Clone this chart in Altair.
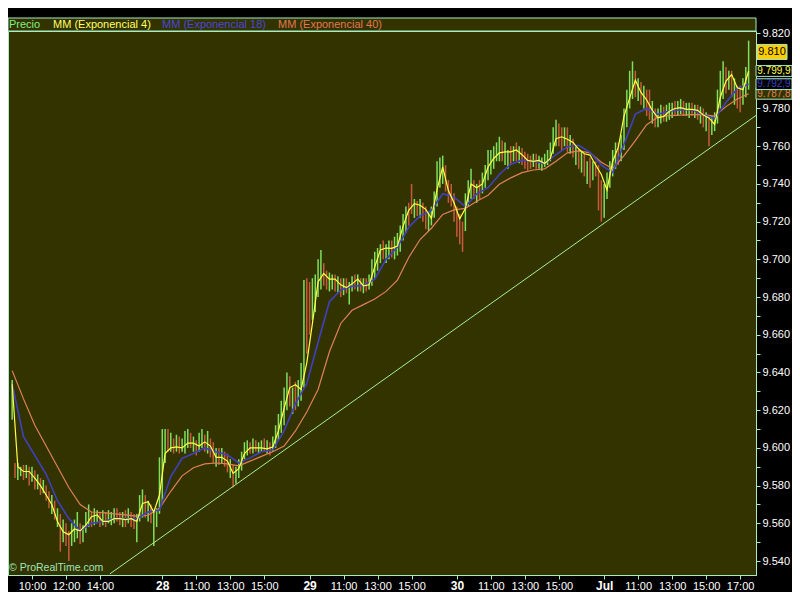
import altair as alt
import pandas as pd

# ---------------- data ----------------
# x = index of 10-minute bar; 0 = 09:00 of the first day, 52 bars per day
BAR_START = -1
bar_low = [
    9.615,
    9.584, 9.583, 9.585, 9.583, 9.584, 9.580, 9.582, 9.578, 9.578, 9.575, 9.576,
    9.572, 9.568, 9.565, 9.562, 9.558, 9.545, 9.550, 9.548, 9.540, 9.548,
    9.550, 9.552, 9.549, 9.550, 9.555, 9.558, 9.558, 9.559, 9.560, 9.558,
    9.559, 9.558, 9.560, 9.559, 9.560, 9.561, 9.559, 9.558, 9.558, 9.560,
    9.558, 9.557, 9.550, 9.561, 9.563, 9.563, 9.561, 9.560, 9.548, 9.558,
    9.565, 9.570, 9.592, 9.598, 9.598, 9.597, 9.598, 9.597, 9.598, 9.597,
    9.600, 9.600, 9.598, 9.596, 9.598, 9.600, 9.598, 9.597, 9.595, 9.592,
    9.590, 9.591, 9.592, 9.590, 9.587, 9.584, 9.579, 9.581, 9.584, 9.588,
    9.594, 9.596, 9.597, 9.597, 9.598, 9.597, 9.598, 9.598, 9.597, 9.596,
    9.598, 9.600, 9.604, 9.608, 9.612, 9.620, 9.622, 9.618, 9.620, 9.622,
    9.625, 9.632, 9.650, 9.660, 9.668, 9.672, 9.680, 9.684, 9.686, 9.684,
    9.683, 9.684, 9.683, 9.682, 9.680, 9.681, 9.682, 9.676, 9.683, 9.684,
    9.683, 9.683, 9.682, 9.683, 9.684, 9.686, 9.690, 9.694, 9.698, 9.700,
    9.698, 9.700, 9.701, 9.700, 9.702, 9.704, 9.710, 9.714, 9.718, 9.724,
    9.722, 9.723, 9.722, 9.720, 9.716, 9.715, 9.718, 9.722, 9.728, 9.738,
    9.740, 9.736, 9.730, 9.728, 9.720, 9.712, 9.708, 9.704, 9.715, 9.728,
    9.732, 9.732, 9.730, 9.732, 9.735, 9.738, 9.742, 9.745, 9.748, 9.752,
    9.752, 9.752, 9.750, 9.748, 9.750, 9.752, 9.752, 9.751, 9.750, 9.748,
    9.747, 9.748, 9.749, 9.748, 9.748, 9.747, 9.749, 9.750, 9.752, 9.756,
    9.760, 9.760, 9.758, 9.760, 9.757, 9.756, 9.754, 9.750, 9.748, 9.746,
    9.744, 9.740, 9.738, 9.742, 9.744, 9.726, 9.720, 9.722, 9.732, 9.738,
    9.744, 9.748, 9.750, 9.752, 9.758, 9.770, 9.780, 9.785, 9.786, 9.784,
    9.782, 9.780, 9.776, 9.774, 9.772, 9.770, 9.770, 9.772, 9.773, 9.773,
    9.774, 9.775, 9.776, 9.776, 9.777, 9.776, 9.776, 9.775, 9.776, 9.775,
    9.774, 9.772, 9.770, 9.768, 9.760, 9.766, 9.768, 9.772, 9.780, 9.785,
    9.788, 9.790, 9.786, 9.782, 9.780, 9.778, 9.782, 9.786, 9.790,
]
bar_high = [
    9.636,
    9.592, 9.592, 9.590, 9.591, 9.591, 9.590, 9.590, 9.588, 9.586, 9.584, 9.583,
    9.580, 9.577, 9.575, 9.572, 9.568, 9.565, 9.562, 9.560, 9.556, 9.560,
    9.562, 9.566, 9.560, 9.559, 9.566, 9.570, 9.566, 9.568, 9.567, 9.566,
    9.567, 9.566, 9.567, 9.566, 9.568, 9.568, 9.566, 9.566, 9.567, 9.568,
    9.566, 9.565, 9.565, 9.575, 9.578, 9.575, 9.572, 9.570, 9.566, 9.568,
    9.595, 9.610, 9.610, 9.610, 9.608, 9.605, 9.607, 9.606, 9.605, 9.609,
    9.610, 9.608, 9.606, 9.604, 9.608, 9.610, 9.607, 9.609, 9.605, 9.603,
    9.600, 9.600, 9.600, 9.598, 9.597, 9.594, 9.591, 9.590, 9.594, 9.598,
    9.603, 9.604, 9.603, 9.605, 9.604, 9.603, 9.604, 9.605, 9.604, 9.603,
    9.606, 9.612, 9.618, 9.625, 9.632, 9.640, 9.638, 9.632, 9.635, 9.636,
    9.645, 9.689, 9.690, 9.688, 9.690, 9.692, 9.700, 9.705, 9.698, 9.694,
    9.693, 9.692, 9.692, 9.691, 9.690, 9.690, 9.690, 9.688, 9.691, 9.692,
    9.692, 9.690, 9.690, 9.690, 9.692, 9.700, 9.704, 9.706, 9.708, 9.710,
    9.708, 9.710, 9.710, 9.712, 9.714, 9.718, 9.724, 9.728, 9.730, 9.740,
    9.732, 9.731, 9.732, 9.730, 9.728, 9.725, 9.728, 9.736, 9.752, 9.754,
    9.755, 9.750, 9.742, 9.740, 9.735, 9.728, 9.724, 9.720, 9.735, 9.742,
    9.748, 9.742, 9.740, 9.742, 9.746, 9.750, 9.758, 9.758, 9.760, 9.762,
    9.765, 9.763, 9.762, 9.758, 9.760, 9.760, 9.762, 9.760, 9.759, 9.757,
    9.756, 9.755, 9.756, 9.756, 9.755, 9.754, 9.756, 9.758, 9.762, 9.770,
    9.774, 9.772, 9.770, 9.770, 9.770, 9.766, 9.764, 9.760, 9.758, 9.757,
    9.756, 9.752, 9.754, 9.752, 9.752, 9.750, 9.742, 9.740, 9.746, 9.752,
    9.758, 9.762, 9.762, 9.766, 9.780, 9.790, 9.800, 9.805, 9.800, 9.796,
    9.794, 9.792, 9.790, 9.790, 9.784, 9.780, 9.780, 9.782, 9.781, 9.782,
    9.783, 9.783, 9.784, 9.784, 9.785, 9.784, 9.783, 9.783, 9.783, 9.782,
    9.782, 9.781, 9.780, 9.778, 9.776, 9.776, 9.778, 9.790, 9.800, 9.805,
    9.802, 9.800, 9.800, 9.796, 9.792, 9.792, 9.796, 9.802, 9.816,
]
bar_dir = (
    "g" + "rggrgrgrgrg"
    + "rrgrgrgrrg" + "ggrgggrggr" + "grgggrrgrg" + "rrgggrgrgg"
    + "gggrgrgrgg" + "grgrggrgrr" + "grgrrgrggg" + "ggrgrggrgr"
    + "ggggggrgrg" + "ggrrggggrr" + "ggrgrgrggr" + "grgrgggggr"
    + "ggrgggggrr" + "grgrrggggg" + "grrrrrrrgg" + "grgrgggggg"
    + "grggrgrgrr" + "rrgrgggggg" + "grrgrgrgrg" + "rgrgrrrggg"
    + "ggrgggggrg" + "rgrrgrggrg" + "ggrggrggrg" + "rgrgrggggg"
    + "rgrgrrggg"
)

# MM (Exponencial 4): every 2nd bar from BAR_START
ema4 = [
    9.634, 9.590, 9.5875, 9.5875, 9.584, 9.580, 9.575, 9.570, 9.561, 9.5555,
    9.554, 9.557, 9.556, 9.559, 9.5635, 9.5645, 9.561, 9.561, 9.5625, 9.5625,
    9.562, 9.5625, 9.561, 9.5705, 9.5715, 9.566, 9.575,
    9.597, 9.600, 9.6005, 9.600, 9.6026, 9.6025, 9.601, 9.6032, 9.601, 9.595,
    9.595, 9.593, 9.5865, 9.589, 9.597, 9.600, 9.600, 9.600, 9.5995, 9.6005,
    9.609, 9.621, 9.632, 9.6335, 9.631, 9.645,
    9.666, 9.688, 9.6925, 9.6895, 9.6895, 9.6865, 9.685, 9.687, 9.6895, 9.686,
    9.6865, 9.696, 9.705, 9.706, 9.7058, 9.707, 9.7175, 9.726, 9.7295, 9.7287,
    9.7265, 9.7218, 9.737, 9.749, 9.7365, 9.730,
    9.7215, 9.727, 9.740, 9.738, 9.740, 9.749, 9.7535, 9.7565, 9.757, 9.757,
    9.758, 9.7555, 9.7525, 9.752, 9.7525, 9.7508, 9.7535, 9.764, 9.765, 9.7637,
    9.762, 9.7585, 9.756, 9.7553, 9.750, 9.745,
    9.7368, 9.752, 9.7595, 9.776, 9.7855, 9.795, 9.7885, 9.7845, 9.779, 9.775,
    9.7758, 9.7785, 9.780, 9.7805, 9.7795, 9.7795, 9.779, 9.7766, 9.775, 9.7716,
    9.786, 9.7945, 9.798, 9.791, 9.790, 9.7999,
]
# MM (Exponencial 18) and (Exponencial 40): every 4th bar from BAR_START
ema18 = [
    9.634, 9.606, 9.596, 9.586, 9.572, 9.5625, 9.556, 9.560, 9.561, 9.5625,
    9.5625, 9.5625, 9.566, 9.567,
    9.5848, 9.5945, 9.597, 9.600, 9.598, 9.5963, 9.592, 9.5947, 9.598, 9.599,
    9.609, 9.6235, 9.634,
    9.656, 9.6775, 9.6838, 9.6857, 9.6862, 9.6895, 9.700, 9.7065, 9.717, 9.723,
    9.726, 9.7348, 9.733,
    9.728, 9.7347, 9.738, 9.745, 9.7505, 9.7526, 9.752, 9.7508, 9.7555, 9.7597,
    9.7605, 9.7568, 9.750,
    9.746, 9.761, 9.777, 9.780, 9.777, 9.7787, 9.7792, 9.7795, 9.7767, 9.7745,
    9.7832, 9.7905, 9.7929,
]
ema40 = [
    9.641, 9.626, 9.612, 9.601, 9.590, 9.579, 9.570, 9.566, 9.5657, 9.565,
    9.5645, 9.5638, 9.5643, 9.568,
    9.577, 9.5852, 9.5895, 9.5915, 9.592, 9.5915, 9.5905, 9.593, 9.5955, 9.598,
    9.601, 9.609, 9.619,
    9.631, 9.651, 9.666, 9.673, 9.676, 9.679, 9.683, 9.689, 9.701, 9.7105,
    9.7165, 9.7238, 9.7262,
    9.727, 9.7308, 9.734, 9.7398, 9.7432, 9.746, 9.7474, 9.748, 9.752, 9.7565,
    9.7575, 9.7565, 9.7515,
    9.748, 9.755, 9.763, 9.7714, 9.7755, 9.7762, 9.7765, 9.7768, 9.7768, 9.776,
    9.781, 9.785, 9.7878,
]

trend_i = [33.5, 261.6]
trend_p = [9.5332, 9.7763]

x_tick_pos = [6, 18, 30, 52, 64, 76, 88, 104, 116, 128, 140,
              156, 168, 180, 192, 208, 220, 232, 244, 256]
x_tick_lbl = ["10:00", "12:00", "14:00", "28", "11:00", "13:00", "15:00",
              "29", "11:00", "13:00", "15:00", "30", "11:00", "13:00", "15:00",
              "Jul", "11:00", "13:00", "15:00", "17:00"]
day_pos = [52, 104, 156, 208]

y_ticks = [round(9.54 + 0.01 * k, 2) for k in range(29)]
y_hidden_label = 9.80   # covered by the last-value tags in the original

tag_text = ["9.787,8", "9.792,9", "9.799,9", "9.810"]
tag_val = [9.7878, 9.7929, 9.7999, 9.810]

legend_text = ["Precio", "MM (Exponencial 4)", "MM (Exponencial 18)", "MM (Exponencial 40)"]

# ---------------- style ----------------
W, H = 748, 544
X_DOMAIN = [-2.47, 261.6]
Y_DOMAIN = [9.5326, 9.8211]
PANEL = "#333300"
FRAME = "#a8ecc0"
GREEN = "#7ee05c"
RED = "#c85a3c"
YELLOW = "#ffff44"
BLUE = "#4040c0"
ORANGE = "#e08058"
TREND = "#a8f08c"
FONT = "Liberation Sans"

bars = pd.DataFrame({
    "i": list(range(BAR_START, BAR_START + len(bar_low))),
    "p": bar_low,
    "p2": bar_high,
    "d": list(bar_dir),
})
e4 = pd.DataFrame({"i": list(range(BAR_START, BAR_START + 2 * len(ema4), 2)), "p": ema4})
e18 = pd.DataFrame({"i": list(range(BAR_START, BAR_START + 4 * len(ema18), 4)), "p": ema18})
e40 = pd.DataFrame({"i": list(range(BAR_START, BAR_START + 4 * len(ema40), 4)), "p": ema40})
trend = pd.DataFrame({"i": trend_i, "p": trend_p})
tags = pd.DataFrame({"p": tag_val, "t": tag_text})
one = pd.DataFrame({"k": [0]})

xexpr = " : ".join(f"datum.value == {p} ? '{l}'" for p, l in zip(x_tick_pos, x_tick_lbl)) + " : ''"
day_test = "indexof([" + ",".join(str(d) for d in day_pos) + "], datum.value) >= 0"
hid = int(round(y_hidden_label * 100))
yexpr = (f"(round(datum.value * 100) % 2 == 0 && round(datum.value * 100) != {hid})"
         " ? format(datum.value, '.3f') : ''")

xaxis = alt.Axis(
    values=x_tick_pos, labelExpr=xexpr, title=None, grid=False,
    domainColor=FRAME, tickColor=FRAME, tickSize=4, labelColor="#ffffff",
    labelFont=FONT, labelPadding=1, labelOverlap=False, labelFlush=False,
    labelFontSize={"condition": {"test": day_test, "value": 12}, "value": 11},
    labelFontWeight={"condition": {"test": day_test, "value": "bold"}, "value": "normal"},
)
yaxis = alt.Axis(
    orient="right", values=y_ticks, title=None, grid=False, labelExpr=yexpr,
    domainColor=FRAME, tickColor=FRAME, tickSize=4, labelColor="#ffffff",
    labelFont=FONT, labelFontSize=11, labelPadding=2, labelOverlap=False, labelFlush=False,
)
X = alt.X("i:Q", scale=alt.Scale(domain=X_DOMAIN, nice=False, zero=False), axis=xaxis)
Y = alt.Y("p:Q", scale=alt.Scale(domain=Y_DOMAIN, nice=False, zero=False), axis=yaxis)

bar_layer = alt.Chart(bars).mark_rule(strokeWidth=1.5, clip=True).encode(
    x=X, y=Y, y2="p2:Q",
    color=alt.Color("d:N", scale=alt.Scale(domain=["g", "r"], range=[GREEN, RED]), legend=None),
)
trend_layer = alt.Chart(trend).mark_line(color=TREND, strokeWidth=1, clip=True).encode(x=X, y=Y)
l40 = alt.Chart(e40).mark_line(color=ORANGE, strokeWidth=1.2, clip=True).encode(x=X, y=Y)
l18 = alt.Chart(e18).mark_line(color=BLUE, strokeWidth=1.6, clip=True).encode(x=X, y=Y)
l4 = alt.Chart(e4).mark_line(color=YELLOW, strokeWidth=1.2, clip=True).encode(x=X, y=Y)

header = alt.Chart(one).mark_rect(fill=PANEL, stroke=FRAME, strokeWidth=1).encode(
    x=alt.value(0), x2=alt.value(W), y=alt.value(-13), y2=alt.value(0))
leg_cols = ["#80f080", "#ffff66", "#4848d8", "#e07850"]
leg_x = [1, 45, 154, 270]
legend_layers = [
    alt.Chart(one).mark_text(text=t, color=c, font=FONT, fontSize=11, align="left",
                             baseline="middle").encode(x=alt.value(xx), y=alt.value(-6))
    for t, c, xx in zip(legend_text, leg_cols, leg_x)
]
copyright_layer = alt.Chart(one).mark_text(
    text="© ProRealTime.com", color="#a0e4b4", font=FONT, fontSize=10.5,
    align="left", baseline="middle").encode(x=alt.value(1), y=alt.value(H - 7))

tag_layers = []
tag_fill = [PANEL, "#000000", "#000000", "#ffcc00"]
tag_tcol = [ORANGE, BLUE, YELLOW, "#000000"]
tag_x = [766, 766, 766, 764]
tag_shape = ["M-1,-0.3H1V0.3H-1Z", "M-1,-0.3H1V0.3H-1Z", "M-1,-0.3H1V0.3H-1Z", "M-1,-0.5H1V0.5H-1Z"]
tag_size = [1296, 1296, 1296, 900]
tag_font = [10, 10, 10, 11]
for k in range(len(tag_text)):
    d = tags.iloc[[k]]
    tag_layers.append(
        alt.Chart(d).mark_point(shape=tag_shape[k], size=tag_size[k], filled=True,
                                fill=tag_fill[k], stroke=FRAME, strokeWidth=1, opacity=1)
        .encode(x=alt.value(tag_x[k]), y=Y))
    tag_layers.append(
        alt.Chart(d).mark_text(color=tag_tcol[k], font=FONT, fontSize=tag_font[k],
                               align="center", baseline="middle")
        .encode(x=alt.value(tag_x[k]), y=Y, text="t:N"))

chart = alt.layer(
    bar_layer, trend_layer, l40, l18, l4, header, *legend_layers, copyright_layer, *tag_layers
).properties(
    width=W, height=H, autosize="none",
    padding={"left": 0, "top": 23, "right": 36, "bottom": 17},
    background="#000000",
).configure_view(fill=PANEL, stroke=FRAME, strokeWidth=1)

chart.save("out.html", embed_options={"renderer": "svg", "actions": False})
